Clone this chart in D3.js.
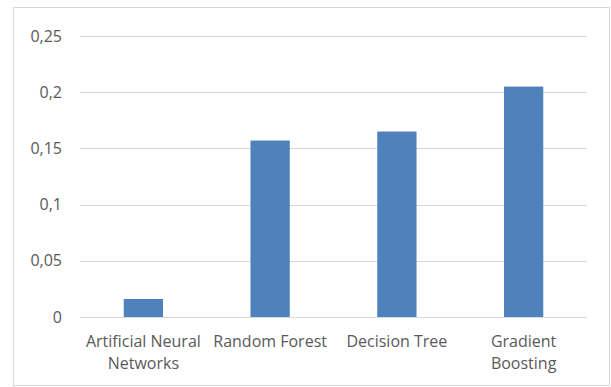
<!DOCTYPE html>
<html>
<head>
<meta charset="utf-8">
<script src="https://cdn.jsdelivr.net/npm/d3@7"></script>
<style>
  html, body { margin: 0; padding: 0; background: #fff; }
  svg text { font-family: "Open Sans", "Noto Sans", sans-serif; fill: #595959; }
</style>
</head>
<body>
<svg id="chart" width="611" height="387"></svg>
<script>
// Model error per algorithm
const categories = [
  ["Artificial Neural", "Networks"],
  ["Random Forest"],
  ["Decision Tree"],
  ["Gradient", "Boosting"]
];
const values = [0.016, 0.157, 0.165, 0.205];
const yTicks = [0, 0.05, 0.1, 0.15, 0.2, 0.25];
const yTickLabels = ["0", "0,05", "0,1", "0,15", "0,2", "0,25"];

const svg = d3.select("#chart");

// outer chart frame
svg.append("rect")
  .attr("x", 13.5).attr("y", 7.5)
  .attr("width", 596).attr("height", 378)
  .attr("fill", "#fff")
  .attr("stroke", "#d9d9d9")
  .attr("stroke-width", 1);

const plot = { left: 80, right: 587, top: 36, bottom: 317 };
const fontSize = 16;

const x = d3.scaleBand()
  .domain(d3.range(categories.length))
  .range([plot.left, plot.right])
  .paddingInner(0.69)
  .paddingOuter(0.345);

const y = d3.scaleLinear()
  .domain([0, 0.25])
  .range([plot.bottom, plot.top]);

// horizontal gridlines
svg.append("g")
  .selectAll("line")
  .data(yTicks)
  .join("line")
  .attr("x1", plot.left).attr("x2", plot.right)
  .attr("y1", d => Math.round(y(d)) + 0.5)
  .attr("y2", d => Math.round(y(d)) + 0.5)
  .attr("stroke", "#d9d9d9")
  .attr("stroke-width", 1);

// y-axis labels
svg.append("g")
  .selectAll("text")
  .data(yTicks)
  .join("text")
  .attr("x", 62)
  .attr("y", d => y(d))
  .attr("dy", "0.35em")
  .attr("text-anchor", "end")
  .attr("font-size", fontSize)
  .text((d, i) => yTickLabels[i]);

// bars
svg.append("g")
  .selectAll("rect")
  .data(values)
  .join("rect")
  .attr("x", (d, i) => x(i))
  .attr("y", d => y(d))
  .attr("width", x.bandwidth())
  .attr("height", d => y(0) - y(d))
  .attr("fill", "#4f81bd");

// category labels
const labels = svg.append("g")
  .selectAll("text")
  .data(categories)
  .join("text")
  .attr("x", (d, i) => x(i) + x.bandwidth() / 2)
  .attr("y", 347)
  .attr("text-anchor", "middle")
  .attr("font-size", fontSize);

labels.selectAll("tspan")
  .data(d => d)
  .join("tspan")
  .attr("x", function () { return d3.select(this.parentNode).attr("x"); })
  .attr("dy", (d, i) => i === 0 ? 0 : 22)
  .text(d => d);
</script>
</body>
</html>
